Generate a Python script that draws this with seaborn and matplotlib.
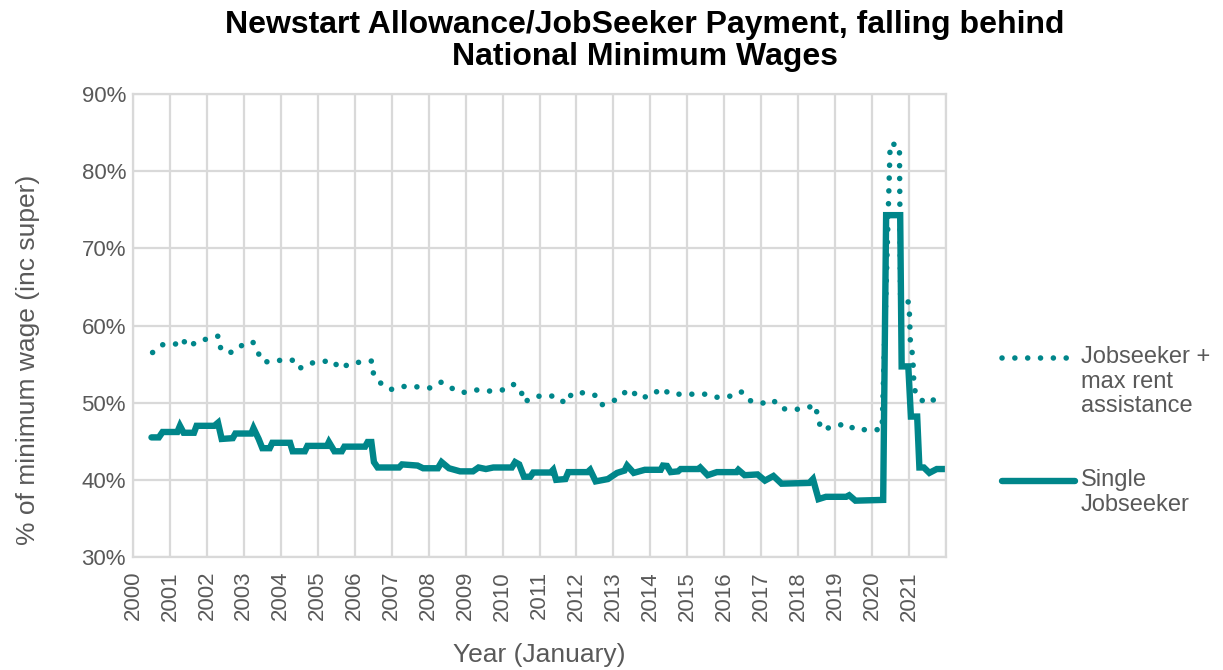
import matplotlib
matplotlib.use("Agg")
import matplotlib.pyplot as plt
from matplotlib.lines import Line2D
import pandas as pd
import seaborn as sns

# Single Jobseeker, % of national minimum wage (inc super)
single_years = [
    2000.50, 2000.70, 2000.80, 2001.20, 2001.27, 2001.37, 2001.65, 2001.72,
    2002.20, 2002.30, 2002.40, 2002.70, 2002.77, 2003.20, 2003.26, 2003.40,
    2003.50, 2003.70, 2003.77, 2004.25, 2004.32, 2004.65, 2004.72, 2005.25,
    2005.30, 2005.45, 2005.65, 2005.72, 2006.28, 2006.35, 2006.45, 2006.52,
    2006.62, 2007.20, 2007.28, 2007.70, 2007.85, 2008.25, 2008.35, 2008.55,
    2008.85, 2009.20, 2009.35, 2009.55, 2009.75, 2010.25, 2010.34, 2010.45,
    2010.58, 2010.75, 2010.83, 2011.30, 2011.37, 2011.45, 2011.70, 2011.78,
    2012.30, 2012.37, 2012.52, 2012.85, 2013.10, 2013.30, 2013.37, 2013.55,
    2013.85, 2014.28, 2014.34, 2014.45, 2014.55, 2014.75, 2014.82, 2015.30,
    2015.35, 2015.55, 2015.80, 2016.33, 2016.38, 2016.55, 2016.90, 2017.10,
    2017.33, 2017.55, 2018.30, 2018.40, 2018.55, 2018.75, 2019.30, 2019.38,
    2019.55, 2020.30, 2020.38, 2020.76, 2020.80, 2020.98, 2021.05, 2021.22,
    2021.28, 2021.40, 2021.55, 2021.75, 2021.97,
]
single_pct = [
    45.5, 45.5, 46.2, 46.2, 47.0, 46.1, 46.1, 47.0,
    47.0, 47.4, 45.3, 45.4, 46.0, 46.0, 46.7, 45.3,
    44.1, 44.1, 44.8, 44.8, 43.7, 43.7, 44.4, 44.4,
    44.9, 43.7, 43.7, 44.3, 44.3, 44.9, 44.9, 42.3,
    41.6, 41.6, 42.0, 41.85, 41.5, 41.5, 42.3, 41.5,
    41.1, 41.1, 41.6, 41.4, 41.6, 41.6, 42.3, 42.0,
    40.4, 40.4, 40.95, 40.95, 41.3, 40.0, 40.1, 41.0,
    41.0, 41.3, 39.8, 40.1, 40.9, 41.2, 41.85, 40.9,
    41.3, 41.3, 41.85, 41.8, 41.0, 41.1, 41.4, 41.4,
    41.6, 40.6, 41.0, 41.0, 41.3, 40.6, 40.7, 39.9,
    40.5, 39.5, 39.6, 40.1, 37.5, 37.8, 37.8, 38.0,
    37.3, 37.4, 74.3, 74.3, 54.7, 54.7, 48.2, 48.2,
    41.6, 41.6, 40.9, 41.4, 41.4,
]

# Jobseeker + max rent assistance
rent_years = [
    2000.53, 2000.79, 2001.15, 2001.31, 2001.51, 2001.76, 2002.09, 2002.32,
    2002.38, 2002.68, 2002.94, 2003.24, 2003.36, 2003.51, 2003.77, 2004.10,
    2004.31, 2004.49, 2004.77, 2005.12, 2005.39, 2005.60, 2005.88, 2006.24,
    2006.47, 2006.51, 2006.71, 2006.97, 2007.31, 2007.68, 2008.06, 2008.34,
    2008.61, 2008.92, 2009.28, 2009.63, 2010.00, 2010.28, 2010.49, 2010.58,
    2010.86, 2011.22, 2011.47, 2011.70, 2011.88, 2012.24, 2012.50, 2012.67,
    2013.00, 2013.25, 2013.47, 2013.68, 2014.04, 2014.29, 2014.54, 2015.20,
    2015.50, 2015.78, 2016.13, 2016.45, 2016.67, 2017.01, 2017.32, 2017.54,
    2017.80, 2018.16, 2018.47, 2018.53, 2018.63, 2018.96, 2019.30, 2019.54,
    2020.27, 2020.49, 2020.74, 2020.77, 2021.00, 2021.04, 2021.10, 2021.13,
    2021.18, 2021.45, 2021.82,
]
rent_pct = [
    56.5, 57.5, 57.6, 58.35, 57.2, 58.05, 58.3, 58.65,
    56.8, 56.5, 57.4, 57.9, 56.7, 55.3, 55.3, 55.6,
    55.5, 54.4, 55.1, 55.3, 55.5, 54.4, 55.1, 55.3,
    55.4, 53.6, 52.5, 51.7, 52.1, 52.05, 51.9, 52.65,
    51.9, 51.3, 51.65, 51.5, 51.65, 52.4, 51.75, 50.05,
    50.8, 50.9, 50.8, 49.9, 51.2, 51.3, 50.95, 49.7,
    50.2, 51.15, 51.75, 50.6, 50.9, 51.9, 51.1, 51.1,
    51.1, 50.7, 50.8, 51.45, 50.3, 49.9, 50.35, 49.25,
    49.1, 49.2, 49.7, 48.0, 46.5, 46.9, 47.3, 46.5,
    46.5, 83.6, 83.3, 63.5, 63.0, 57.3, 56.2, 52.5,
    51.0, 49.9, 50.7,
]

tick_years = list(range(2000, 2023))
y_ticks = [30, 40, 50, 60, 70, 80, 90]

teal = "#00868A"
grid_grey = "#D9D9D9"
text_grey = "#595959"
dot_style = (0, (0.01, 2.3))

single_df = pd.DataFrame({"year": single_years, "pct": single_pct})
rent_df = pd.DataFrame({"year": rent_years, "pct": rent_pct})

sns.set_theme(style="whitegrid")
plt.rcParams["font.family"] = ["Liberation Sans", "DejaVu Sans"]

fig = plt.figure(figsize=(12.23, 6.70), dpi=100)
ax = fig.add_axes([133 / 1223, 1 - 557 / 670, 813 / 1223, 463 / 670])

sns.lineplot(data=rent_df, x="year", y="pct", ax=ax, color=teal,
             linewidth=4.0, estimator=None, sort=False)
rent_line = ax.lines[-1]
rent_line.set_linestyle(dot_style)
rent_line.set_dash_capstyle("round")

sns.lineplot(data=single_df, x="year", y="pct", ax=ax, color=teal,
             linewidth=4.6, estimator=None, sort=False)
ax.lines[-1].set_solid_joinstyle("miter")

ax.set_xlim(2000, 2022)
ax.set_ylim(30, 90)
ax.set_xticks(tick_years)
ax.set_xticklabels([str(y) if y < 2022 else "" for y in tick_years],
                   rotation=90, fontsize=16, color=text_grey)
ax.set_yticks(y_ticks)
ax.set_yticklabels([f"{v}%" for v in y_ticks], fontsize=16, color=text_grey)

ax.grid(True, color=grid_grey, linewidth=1.6)
for side in ax.spines.values():
    side.set_color(grid_grey)
    side.set_linewidth(1.6)
ax.tick_params(axis="x", length=5, width=1.6, color=grid_grey, pad=5)
ax.tick_params(axis="y", length=0, pad=5)

ax.set_xlabel("Year (January)", fontsize=19, color=text_grey)
ax.xaxis.set_label_coords(0.5, -0.212)
ax.xaxis.label.set_verticalalignment("center")
ax.set_ylabel("% of minimum wage (inc super)", fontsize=19, color=text_grey)
ax.yaxis.set_label_coords(-0.129, 0.425)
ax.yaxis.label.set_verticalalignment("center")

fig.text(0.527, 0.985,
         "Newstart Allowance/JobSeeker Payment, falling behind\nNational Minimum Wages",
         ha="center", va="top", fontsize=23, fontweight="bold",
         color="black", linespacing=1.1)

# legend drawn by hand so the key sits on the first line of each label
leg_x0, leg_x1 = 1002 / 1223, 1075 / 1223
leg_dots = Line2D([leg_x0, leg_x1], [1 - 358 / 670] * 2, transform=fig.transFigure,
                  color=teal, linewidth=4.0, linestyle=dot_style,
                  dash_capstyle="round")
leg_solid = Line2D([leg_x0, leg_x1], [1 - 481 / 670] * 2, transform=fig.transFigure,
                   color=teal, linewidth=4.6, solid_capstyle="round")
fig.add_artist(leg_dots)
fig.add_artist(leg_solid)
fig.text(1081 / 1223, 1 - 346 / 670, "Jobseeker +\nmax rent\nassistance",
         ha="left", va="top", fontsize=17, color=text_grey, linespacing=1.15)
fig.text(1081 / 1223, 1 - 469 / 670, "Single\nJobseeker",
         ha="left", va="top", fontsize=17, color=text_grey, linespacing=1.15)

fig.savefig("out.png", dpi=100)
